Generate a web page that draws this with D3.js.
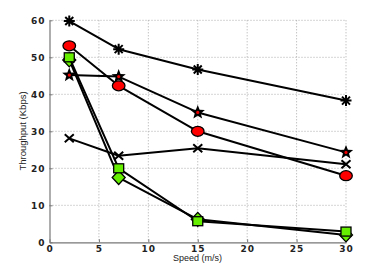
<!DOCTYPE html>
<html><head><meta charset="utf-8">
<script src="https://cdn.jsdelivr.net/npm/d3@7"></script>
<style>body{margin:0;background:#fff}svg{display:block}</style>
</head><body>
<svg id="c" width="382" height="273"></svg>
<script>
const speeds = [2, 7, 15, 30];
const asteriskSeries = [59.8, 52.2, 46.7, 38.3];
const circleSeries = [53.1, 42.3, 30.0, 18.0];
const starSeries = [45.2, 44.8, 35.1, 24.3];
const crossSeries = [28.1, 23.4, 25.4, 21.1];
const diamondSeries = [49.3, 17.5, 6.2, 2.0];
const squareSeries = [50.0, 20.0, 5.7, 2.9];
const xTicks = [0, 5, 10, 15, 20, 25, 30];
const yTicks = [0, 10, 20, 30, 40, 50, 60];
const xLabel = "Speed (m/s)";
const yLabel = "Throughput (Kbps)";

const svg = d3.select("#c");
const L = 49.5, R = 346, T = 20.3, B = 242.3;
const x = d3.scaleLinear().domain([0, 30]).range([L, R]);
const y = d3.scaleLinear().domain([0, 60]).range([B, T]);

// grid
const g = svg.append("g");
g.selectAll(".gx").data(xTicks.filter(d => d > 0)).join("line")
  .attr("x1", d => x(d)).attr("x2", d => x(d)).attr("y1", T).attr("y2", B)
  .attr("stroke", "#aaa").attr("stroke-width", 1).attr("stroke-dasharray", "1,2");
g.selectAll(".gy").data(yTicks.filter(d => d > 0)).join("line")
  .attr("y1", d => y(d)).attr("y2", d => y(d)).attr("x1", L).attr("x2", R)
  .attr("stroke", "#aaa").attr("stroke-width", 1).attr("stroke-dasharray", "1,2");

// axes
const tickFont = "DejaVu Sans";
const xa = svg.append("g").attr("transform", `translate(0,${B})`)
  .call(d3.axisBottom(x).tickValues(xTicks).tickSizeInner(-3).tickSizeOuter(0).tickPadding(3));
const ya = svg.append("g").attr("transform", `translate(${L},0)`)
  .call(d3.axisLeft(y).tickValues(yTicks).tickSizeInner(-3).tickSizeOuter(0).tickPadding(4));
[xa, ya].forEach(a => {
  a.select(".domain").attr("stroke", "#777").attr("stroke-width", 1.2);
  a.selectAll(".tick line").attr("stroke", "#777");
  a.selectAll("text").attr("font-family", tickFont).attr("font-weight", "bold")
    .attr("font-size", 9).attr("letter-spacing", "1px").attr("fill", "#222");
});

svg.append("text").attr("x", 197.5).attr("y", 261).attr("text-anchor", "middle")
  .attr("font-family", "Liberation Sans, Arial, sans-serif").attr("font-size", 9).attr("fill", "#222")
  .text(xLabel);
svg.append("text").attr("transform", "translate(26,131) rotate(-90)").attr("text-anchor", "middle")
  .attr("font-family", "Liberation Sans Narrow, Liberation Sans, sans-serif").attr("font-size", 9.5).attr("fill", "#222")
  .text(yLabel);

const line = d3.line().x((d, i) => x(speeds[i])).y(d => y(d));

function starPath(ro, ri) {
  let p = "";
  for (let k = 0; k < 10; k++) {
    const r = k % 2 ? ri : ro;
    const a = -Math.PI / 2 + k * Math.PI / 5;
    p += (k ? "L" : "M") + (r * Math.cos(a)).toFixed(2) + "," + (r * Math.sin(a)).toFixed(2);
  }
  return p + "Z";
}

const series = [
  { vals: asteriskSeries, m: "asterisk" },
  { vals: starSeries, m: "star" },
  { vals: circleSeries, m: "circle" },
  { vals: crossSeries, m: "cross" },
  { vals: diamondSeries, m: "diamond" },
  { vals: squareSeries, m: "square" }
];

series.forEach(s => {
  const sg = svg.append("g");
  sg.append("path").attr("d", line(s.vals)).attr("fill", "none")
    .attr("stroke", "#000").attr("stroke-width", 2).attr("stroke-linejoin", "round");
  const pts = sg.selectAll(".p").data(s.vals).join("g")
    .attr("transform", (d, i) => `translate(${x(speeds[i])},${y(d)})`);
  if (s.m === "asterisk") {
    pts.append("path").attr("d", "M-5.5,0H5.5M0,-5.5V5.5M-4,-4L4,4M-4,4L4,-4")
      .attr("stroke", "#000").attr("stroke-width", 2);
  } else if (s.m === "star") {
    pts.append("path").attr("d", starPath(7.5, 3.2)).attr("fill", "#000");
    pts.append("circle").attr("r", 1.6).attr("fill", "#e00");
  } else if (s.m === "circle") {
    pts.append("ellipse").attr("rx", 6.3).attr("ry", 5).attr("fill", "#f00")
      .attr("stroke", "#000").attr("stroke-width", 1.3);
  } else if (s.m === "cross") {
    pts.append("path").attr("d", "M-4.5,-4L4.5,4M-4.5,4L4.5,-4")
      .attr("stroke", "#000").attr("stroke-width", 2);
  } else if (s.m === "diamond") {
    pts.append("path").attr("d", "M0,-7L6.5,0L0,7L-6.5,0Z").attr("fill", "#66ee00")
      .attr("stroke", "#000").attr("stroke-width", 1.3);
  } else if (s.m === "square") {
    pts.append("rect").attr("x", -5).attr("y", -4.5).attr("width", 10).attr("height", 9)
      .attr("fill", "#66ee00").attr("stroke", "#000").attr("stroke-width", 1.3);
  }
});
</script>
</body></html>
